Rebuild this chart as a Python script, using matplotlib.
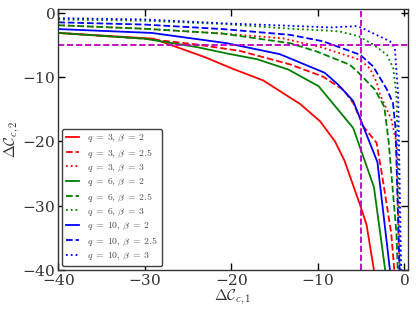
import numpy as np
import matplotlib
matplotlib.use("Agg")
from matplotlib import pyplot as plt

plt.rcParams['mathtext.fontset'] = 'cm'
plt.rcParams['font.family'] = 'serif'
plt.rcParams['axes.formatter.use_mathtext'] = True

# curves: (q, beta) -> x, y
x_q3_b2 = [-40, -29, -23, -19.8, -16.3, -12, -9.7, -8, -6.9, -5.1, -4.35, -3.5]
y_q3_b2 = [-3.1, -4.0, -6.9, -8.7, -10.5, -14.2, -16.9, -20, -23, -29.9, -33, -40]
x_q3_b25 = [-40, -30, -24, -19, -13.2, -9.4, -7, -5.9, -4.7, -3.2, -2.6, -1.5, -1.15]
y_q3_b25 = [-3.1, -4.0, -4.9, -5.9, -8.0, -9.9, -12, -14.0, -17.7, -20.2, -24.9, -34.3, -40]
x_q3_b3 = [-40, -30, -21, -14, -9.4, -5.1, -4.0, -3.2, -2.8, -1.5, -0.9, -0.55]
y_q3_b3 = [-1.9, -2.45, -3.2, -3.95, -5.4, -7.3, -8.6, -10.7, -12.7, -16.5, -20.2, -40]

x_q6_b2 = [-40, -30, -24, -20.5, -17, -13.4, -9.9, -5.9, -3.5, -2.2]
y_q6_b2 = [-3.1, -4.0, -5.3, -6.3, -7.2, -8.8, -11.4, -17.9, -27.1, -40]
x_q6_b25 = [-40, -30, -21, -13.2, -10.1, -6.3, -5.5, -3.4, -2.3, -1.8, -0.9, -0.75]
y_q6_b25 = [-1.9, -2.45, -3.2, -4.7, -6.0, -8.05, -9.0, -11.9, -14.6, -20, -34.3, -40]
x_q6_b3 = [-40, -30, -21, -13.2, -8.6, -7.4, -5.3, -3.6, -2.0, -1.27, -0.9, -0.45]
y_q6_b3 = [-1.0, -1.2, -1.7, -2.45, -2.75, -2.9, -3.6, -4.9, -6.5, -8.6, -12.7, -40]

x_q10_b2 = [-40, -29.2, -20.5, -14.4, -9.2, -7.6, -5.9, -3.1, -1.65]
y_q10_b2 = [-2.5, -3.1, -4.7, -6.4, -9.3, -11.2, -13.7, -23.2, -40]
x_q10_b25 = [-40, -30, -21, -13.2, -9.4, -5.1, -3.6, -2.0, -1.3, -1.0, -0.55]
y_q10_b25 = [-1.45, -1.8, -2.5, -3.4, -4.4, -6.5, -8.3, -11.9, -14.0, -18, -40]
x_q10_b3 = [-40, -30, -21, -13, -8.6, -5.6, -4.9, -4.0, -1.65, -1.08, -0.9, -0.7, -0.35]
y_q10_b3 = [-0.8, -1.0, -1.6, -2.0, -2.25, -2.05, -2.3, -2.9, -4.4, -5.45, -9.1, -12.7, -40]

curves = [
    (x_q3_b2, y_q3_b2, 'r', '-', r'$q\;=\;3,\,\beta\;=\;2$'),
    (x_q3_b25, y_q3_b25, 'r', '--', r'$q\;=\;3,\,\beta\;=\;2.5$'),
    (x_q3_b3, y_q3_b3, 'r', ':', r'$q\;=\;3,\,\beta\;=\;3$'),
    (x_q6_b2, y_q6_b2, 'g', '-', r'$q\;=\;6,\,\beta\;=\;2$'),
    (x_q6_b25, y_q6_b25, 'g', '--', r'$q\;=\;6,\,\beta\;=\;2.5$'),
    (x_q6_b3, y_q6_b3, 'g', ':', r'$q\;=\;6,\,\beta\;=\;3$'),
    (x_q10_b2, y_q10_b2, 'b', '-', r'$q\;=\;10,\,\beta\;=\;2$'),
    (x_q10_b25, y_q10_b25, 'b', '--', r'$q\;=\;10,\,\beta\;=\;2.5$'),
    (x_q10_b3, y_q10_b3, 'b', ':', r'$q\;=\;10,\,\beta\;=\;3$'),
]
threshold = -5

fig = plt.figure(figsize=(4.16, 3.16), dpi=100)
ax = fig.add_axes([0.140, 0.146, 0.841, 0.825])

for xs, ys, c, ls, lab in curves:
    ax.plot(xs, ys, color=c, ls=ls, lw=1.3, label=lab)

ax.axhline(threshold, color='m', ls='--', lw=1.3, dashes=(3.5, 1.5))
ax.axvline(threshold, color='m', ls='--', lw=1.3, dashes=(3.5, 1.5))

ax.set_xlim(-40, 0.45)
ax.set_ylim(-40, 0.6)
ax.set_xticks([-40, -30, -20, -10, 0])
ax.set_yticks([-40, -30, -20, -10, 0])
ax.tick_params(direction='in', top=True, right=True, length=5, width=1,
               labelsize=11, pad=2, labelcolor='0.2')
for s in ax.spines.values():
    s.set_color('0.2')
    s.set_linewidth(1)

ax.set_xlabel(r'$\Delta\mathcal{C}_{c,1}$', fontsize=11, labelpad=0, color='0.2')
ax.set_ylabel(r'$\Delta\mathcal{C}_{c,2}$', fontsize=11, labelpad=0, color='0.2')

leg = ax.legend(loc='lower left', fontsize=7, handlelength=1.3, handletextpad=0.9,
                labelspacing=0.32, borderaxespad=0.4, framealpha=1, fancybox=True)
leg.get_frame().set_edgecolor('0.25')
leg.get_frame().set_linewidth(1)
for t in leg.get_texts():
    t.set_color('0.3')

fig.savefig('out.png', dpi=100)
